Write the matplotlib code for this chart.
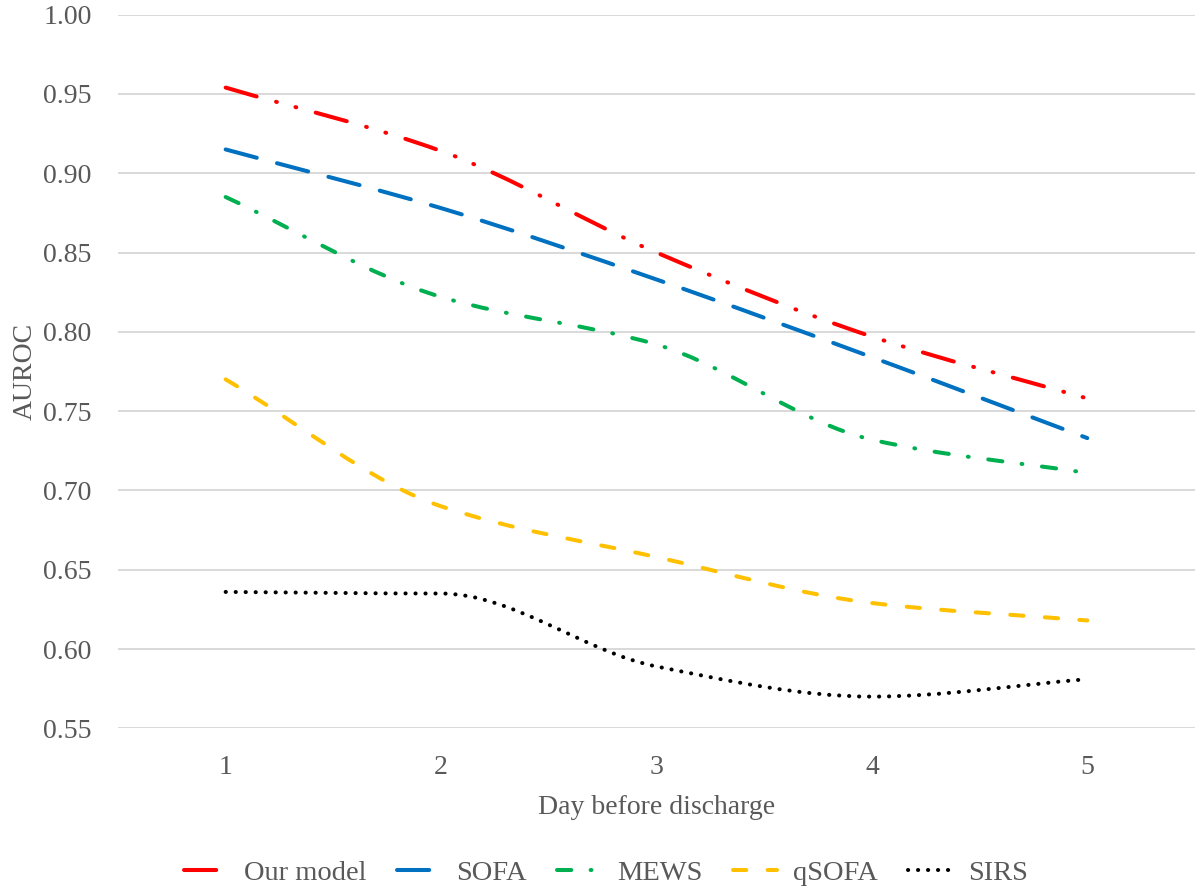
import matplotlib
matplotlib.use("Agg")
import numpy as np
from matplotlib import pyplot as plt
from matplotlib.lines import Line2D
from matplotlib.patches import PathPatch
from matplotlib.path import Path

days = [1, 2, 3, 4, 5]
our_model = [0.954, 0.914, 0.850, 0.797, 0.758]
sofa = [0.915, 0.878, 0.833, 0.784, 0.733]
mews = [0.885, 0.822, 0.792, 0.732, 0.711]
qsofa = [0.770, 0.690, 0.658, 0.629, 0.618]
sirs = [0.636, 0.635, 0.589, 0.570, 0.581]

y_ticks = [0.55, 0.60, 0.65, 0.70, 0.75, 0.80, 0.85, 0.90, 0.95, 1.00]

TEXT = "#595959"
GRID = "#D9D9D9"
LW = 2.9

# (name, values, colour, dash pattern in units of line width)
series = [
    ("Our model", our_model, "#FF0000", (8.0, 5.0, 0.2, 4.8, 0.2, 5.0)),
    ("SOFA", sofa, "#0070C0", (8.0, 5.2)),
    ("MEWS", mews, "#00B050", (3.55, 4.8, 0.2, 4.9)),
    ("qSOFA", qsofa, "#FFC000", (3.3, 5.3)),
    ("SIRS", sirs, "#000000", (0.05, 2.43)),
]


def smooth_path(xs, ys):
    # cubic hermite pieces as bezier curves, monotone tangents so flat runs stay flat
    x = np.asarray(xs, float)
    y = np.asarray(ys, float)
    h = np.diff(x)
    d = np.diff(y) / h
    m = np.zeros_like(y)
    m[0], m[-1] = d[0], d[-1]
    for i in range(1, len(y) - 1):
        if d[i - 1] * d[i] > 0 and abs(d[i - 1]) > 0.003 and abs(d[i]) > 0.003:
            m[i] = 2.0 / (1.0 / d[i - 1] + 1.0 / d[i])
    verts = [(x[0], y[0])]
    codes = [Path.MOVETO]
    for i in range(len(x) - 1):
        verts += [(x[i] + h[i] / 3, y[i] + m[i] * h[i] / 3),
                  (x[i + 1] - h[i] / 3, y[i + 1] - m[i + 1] * h[i] / 3),
                  (x[i + 1], y[i + 1])]
        codes += [Path.CURVE4] * 3
    return Path(verts, codes)


plt.rcParams["font.family"] = ["Liberation Serif", "DejaVu Serif"]

fig = plt.figure(figsize=(11.95, 8.92), dpi=100)
ax = fig.add_axes([0.0987, 0.1835, 0.9013, 0.8001])

handles = []
for name, vals, color, dashes in series:
    patch = PathPatch(smooth_path(days, vals), fill=False, edgecolor=color,
                      linewidth=LW, linestyle=(0, dashes), capstyle="round",
                      joinstyle="round", zorder=3)
    ax.add_patch(patch)
    handles.append(Line2D([], [], color=color, linewidth=LW,
                          linestyle=(0, dashes), dash_capstyle="round",
                          solid_capstyle="round", label=name))

ax.set_xlim(0.5, 5.5)
ax.set_ylim(0.55, 1.00)
ax.set_xticks(days)
ax.set_xticklabels([str(d) for d in days])
ax.set_yticks(y_ticks)
ax.set_yticklabels([f"{t:.2f}" for t in y_ticks])
ax.grid(axis="y", color=GRID, linewidth=1.4, zorder=0)
ax.set_axisbelow(True)
for s in ax.spines.values():
    s.set_visible(False)

ax.tick_params(axis="y", length=0, pad=19, labelsize=20, labelcolor=TEXT)
ax.tick_params(axis="x", length=0, pad=19, labelsize=20, labelcolor=TEXT)
ax.set_xlabel("Day before discharge", fontsize=20, color=TEXT, labelpad=11)
ax.set_ylabel("AUROC", fontsize=20, color=TEXT, labelpad=4)

fig.legend(handles=handles, loc="center", bbox_to_anchor=(0.507, 0.0213),
           ncol=5, frameon=False, fontsize=20.5, labelcolor=TEXT,
           handlelength=1.55, handletextpad=0.55, columnspacing=1.07)

fig.savefig("out.png", dpi=100)
